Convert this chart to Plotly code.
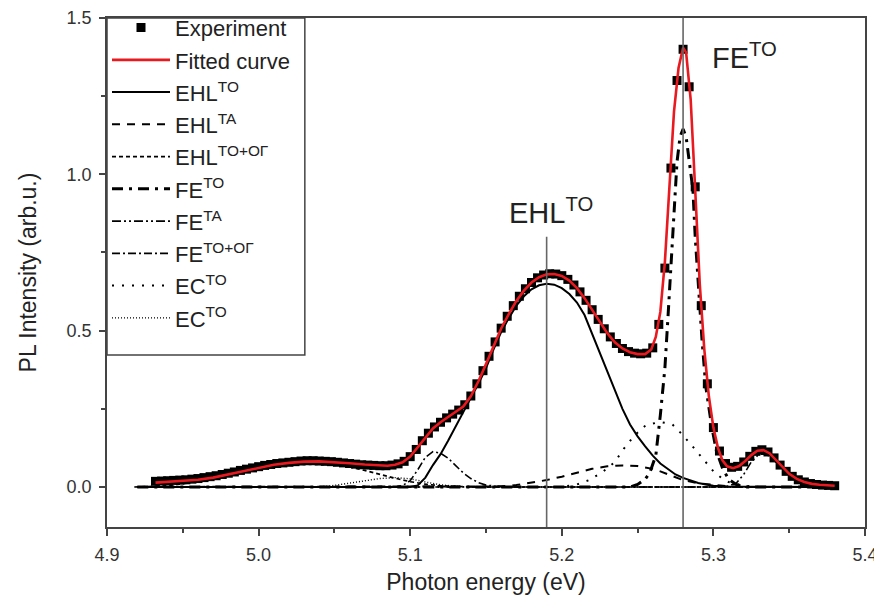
import plotly.graph_objects as go

# ---------------- data ----------------
exp_energy = [4.932, 4.936, 4.940, 4.944, 4.948, 4.952, 4.956, 4.960, 4.964, 4.968,
              4.972, 4.976, 4.980, 4.984, 4.988, 4.992, 4.996, 5.000, 5.004, 5.008,
              5.012, 5.016, 5.020, 5.024, 5.028, 5.032, 5.036, 5.040, 5.044, 5.048,
              5.052, 5.056, 5.060, 5.064, 5.068, 5.072, 5.076, 5.080, 5.084, 5.088,
              5.092, 5.096, 5.100, 5.104, 5.108, 5.112, 5.116, 5.120, 5.124, 5.128,
              5.132, 5.136, 5.140, 5.144, 5.148, 5.152, 5.156, 5.160, 5.164, 5.168,
              5.172, 5.176, 5.180, 5.184, 5.188, 5.192, 5.196, 5.200, 5.204, 5.208,
              5.212, 5.216, 5.220, 5.224, 5.228, 5.232, 5.236, 5.240, 5.244, 5.248,
              5.252, 5.256, 5.260, 5.264, 5.268, 5.272, 5.276, 5.280, 5.284, 5.288,
              5.292, 5.296, 5.300, 5.304, 5.308, 5.312, 5.316, 5.320, 5.324, 5.328,
              5.332, 5.336, 5.340, 5.344, 5.348, 5.352, 5.356, 5.360, 5.364, 5.368,
              5.372, 5.376, 5.380]
exp_intensity = [0.018, 0.019, 0.020, 0.021, 0.022, 0.023, 0.025, 0.027, 0.030, 0.033,
                 0.036, 0.040, 0.044, 0.048, 0.053, 0.057, 0.061, 0.065, 0.069, 0.072,
                 0.075, 0.077, 0.079, 0.081, 0.083, 0.084, 0.084, 0.083, 0.082, 0.081,
                 0.079, 0.077, 0.075, 0.073, 0.071, 0.070, 0.069, 0.068, 0.068, 0.070,
                 0.074, 0.082, 0.097, 0.120, 0.148, 0.172, 0.192, 0.207, 0.221, 0.233,
                 0.246, 0.263, 0.291, 0.330, 0.372, 0.418, 0.464, 0.508, 0.546, 0.580,
                 0.610, 0.634, 0.654, 0.669, 0.678, 0.682, 0.681, 0.676, 0.664, 0.646,
                 0.624, 0.597, 0.567, 0.536, 0.506, 0.480, 0.459, 0.443, 0.433, 0.428,
                 0.426, 0.428, 0.445, 0.520, 0.700, 1.020, 1.300, 1.400, 1.280, 0.960,
                 0.580, 0.330, 0.190, 0.115, 0.075, 0.063, 0.066, 0.080, 0.098, 0.114,
                 0.119, 0.112, 0.093, 0.070, 0.050, 0.034, 0.023, 0.016, 0.011, 0.008,
                 0.006, 0.005, 0.004]

fit_energy = [4.932, 4.94, 4.95, 4.96, 4.97, 4.98, 4.99, 5.00, 5.01, 5.02,
              5.03, 5.04, 5.05, 5.06, 5.07, 5.08, 5.085, 5.09, 5.095, 5.10,
              5.105, 5.11, 5.115, 5.12, 5.125, 5.13, 5.135, 5.14, 5.145, 5.15,
              5.155, 5.16, 5.165, 5.17, 5.175, 5.18, 5.185, 5.19, 5.195, 5.20,
              5.205, 5.21, 5.215, 5.22, 5.225, 5.23, 5.235, 5.24, 5.245, 5.25,
              5.255, 5.259, 5.262, 5.265, 5.268, 5.271, 5.274, 5.277, 5.28, 5.282,
              5.285, 5.288, 5.291, 5.294, 5.297, 5.30, 5.303, 5.306, 5.309, 5.313,
              5.317, 5.321, 5.325, 5.329, 5.333, 5.337, 5.341, 5.345, 5.35, 5.355,
              5.36, 5.365, 5.37, 5.38]
fit_intensity = [0.014, 0.016, 0.019, 0.023, 0.030, 0.040, 0.051, 0.062, 0.071, 0.077,
                 0.081, 0.082, 0.080, 0.076, 0.072, 0.068, 0.068, 0.071, 0.079, 0.097,
                 0.127, 0.160, 0.187, 0.207, 0.224, 0.239, 0.257, 0.290, 0.338, 0.393,
                 0.452, 0.507, 0.553, 0.595, 0.628, 0.654, 0.671, 0.680, 0.681, 0.675,
                 0.660, 0.636, 0.604, 0.566, 0.528, 0.492, 0.463, 0.443, 0.431, 0.425,
                 0.425, 0.440, 0.480, 0.560, 0.720, 0.980, 1.200, 1.340, 1.405, 1.390,
                 1.240, 0.950, 0.650, 0.440, 0.290, 0.190, 0.125, 0.085, 0.066, 0.060,
                 0.067, 0.083, 0.102, 0.116, 0.118, 0.108, 0.088, 0.065, 0.042, 0.026,
                 0.016, 0.010, 0.007, 0.004]

ehl_to_energy = [4.92, 5.10, 5.105, 5.11, 5.115, 5.12, 5.125, 5.13, 5.135, 5.14,
                 5.145, 5.15, 5.155, 5.16, 5.165, 5.17, 5.175, 5.18, 5.185, 5.19,
                 5.195, 5.20, 5.205, 5.21, 5.215, 5.22, 5.225, 5.23, 5.235, 5.24,
                 5.245, 5.25, 5.255, 5.26, 5.265, 5.27, 5.275, 5.28, 5.285, 5.29,
                 5.295, 5.30, 5.31, 5.38]
ehl_to_intensity = [0, 0, 0.005, 0.03, 0.07, 0.105, 0.148, 0.195, 0.243, 0.285,
                    0.33, 0.38, 0.44, 0.495, 0.54, 0.58, 0.61, 0.632, 0.645, 0.65,
                    0.647, 0.636, 0.617, 0.59, 0.55, 0.49, 0.43, 0.365, 0.305, 0.25,
                    0.20, 0.162, 0.13, 0.10, 0.075, 0.056, 0.04, 0.029, 0.02, 0.013,
                    0.008, 0.004, 0.001, 0]

ehl_ta_energy = [4.92, 5.15, 5.16, 5.17, 5.18, 5.19, 5.20, 5.21, 5.22, 5.23,
                 5.24, 5.25, 5.26, 5.265, 5.27, 5.275, 5.28, 5.29, 5.30, 5.31,
                 5.32, 5.38]
ehl_ta_intensity = [0, 0, 0.002, 0.006, 0.013, 0.022, 0.033, 0.046, 0.058, 0.066,
                    0.069, 0.067, 0.058, 0.050, 0.040, 0.030, 0.022, 0.012, 0.006, 0.002,
                    0, 0]

ehl_og_energy = [4.918, 4.93, 4.94, 4.95, 4.96, 4.97, 4.98, 4.99, 5.00, 5.01,
                 5.02, 5.03, 5.04, 5.05, 5.06, 5.07, 5.08, 5.09, 5.10, 5.11,
                 5.12, 5.13, 5.14, 5.38]
ehl_og_intensity = [0, 0.001, 0.004, 0.010, 0.018, 0.027, 0.038, 0.050, 0.060, 0.068,
                    0.074, 0.077, 0.076, 0.072, 0.064, 0.053, 0.040, 0.028, 0.017, 0.009,
                    0.004, 0.001, 0, 0]

fe_to_energy = [4.92, 5.245, 5.25, 5.255, 5.258, 5.262, 5.265, 5.268, 5.270, 5.272,
                5.274, 5.276, 5.278, 5.280, 5.282, 5.284, 5.2865, 5.288, 5.290, 5.2925,
                5.295, 5.299, 5.302, 5.306, 5.310, 5.315, 5.320, 5.38]
fe_to_intensity = [0, 0, 0.008, 0.025, 0.045, 0.10, 0.23, 0.38, 0.54, 0.70,
                   0.89, 1.04, 1.12, 1.145, 1.12, 1.05, 0.95, 0.80, 0.65, 0.47,
                   0.32, 0.19, 0.115, 0.06, 0.025, 0.008, 0, 0]

fe_ta_energy = [4.92, 5.30, 5.31, 5.315, 5.32, 5.325, 5.33, 5.335, 5.34, 5.345,
                5.35, 5.355, 5.36, 5.37, 5.38]
fe_ta_intensity = [0, 0, 0.003, 0.012, 0.040, 0.080, 0.105, 0.105, 0.085, 0.060,
                   0.037, 0.020, 0.010, 0.003, 0]

fe_og_energy = [4.92, 5.09, 5.095, 5.10, 5.105, 5.11, 5.115, 5.12, 5.125, 5.13,
                5.135, 5.14, 5.145, 5.15, 5.16, 5.17, 5.38]
fe_og_intensity = [0, 0, 0.005, 0.02, 0.055, 0.095, 0.113, 0.108, 0.092, 0.068,
                   0.045, 0.027, 0.014, 0.006, 0.001, 0, 0]

ec_to_energy = [4.92, 5.20, 5.21, 5.218, 5.227, 5.235, 5.241, 5.248, 5.2555, 5.265,
                5.273, 5.28, 5.288, 5.2945, 5.30, 5.305, 5.31, 5.32, 5.33, 5.38]
ec_to_intensity = [0, 0, 0.008, 0.022, 0.048, 0.080, 0.123, 0.165, 0.198, 0.208,
                   0.200, 0.165, 0.120, 0.080, 0.050, 0.030, 0.016, 0.004, 0, 0]

ec_og_energy = [4.92, 5.04, 5.05, 5.06, 5.07, 5.08, 5.09, 5.10, 5.11, 5.12,
                5.13, 5.14, 5.38]
ec_og_intensity = [0, 0, 0.005, 0.012, 0.020, 0.027, 0.030, 0.026, 0.016, 0.007,
                   0.002, 0, 0]

# reference lines + labels
line_energies = [5.19, 5.28]
line_tops = [0.80, 1.50]
peak_labels = ["EHL<sup>TO</sup>", "FE<sup>TO</sup>"]
label_x = [5.193, 5.298]
label_y = [0.80, 1.38]
label_anchor = ["center", "left"]

y_range = [-0.128, 1.5]
x_range = [4.9, 5.4]

# ---------------- figure ----------------
LEG = "<span style='font-size:22px'>%s</span>"
fig = go.Figure()

components = [
    ("EHL<sup>TO</sup>", ehl_to_energy, ehl_to_intensity, "solid", 2.0, 3),
    ("EHL<sup>TA</sup>", ehl_ta_energy, ehl_ta_intensity, "8px,7px", 2.0, 4),
    ("EHL<sup>TO+OΓ</sup>", ehl_og_energy, ehl_og_intensity, "4px,3px", 1.6, 5),
    ("FE<sup>TO</sup>", fe_to_energy, fe_to_intensity, "11px,6px,3px,6px", 3.0, 6),
    ("FE<sup>TA</sup>", fe_ta_energy, fe_ta_intensity, "9px,3px,2px,3px,2px,3px", 1.6, 7),
    ("FE<sup>TO+OΓ</sup>", fe_og_energy, fe_og_intensity, "8px,3px,2px,3px", 1.6, 8),
    ("EC<sup>TO</sup>", ec_to_energy, ec_to_intensity, "2px,8px", 2.0, 9),
    ("EC<sup>TO</sup>", ec_og_energy, ec_og_intensity, "1px,2px", 1.4, 10),
]
for name, xs, ys, dash, w, rank in components:
    fig.add_trace(go.Scatter(x=xs, y=ys, mode="lines", name=LEG % name,
                             line=dict(color="black", width=w, dash=dash),
                             legendrank=rank))

fig.add_trace(go.Scatter(x=exp_energy, y=exp_intensity, mode="markers",
                         name=LEG % "Experiment",
                         marker=dict(symbol="square", size=9, color="black"),
                         legendrank=1))
fig.add_trace(go.Scatter(x=fit_energy, y=fit_intensity, mode="lines",
                         name=LEG % "Fitted curve",
                         line=dict(color="#e8191f", width=2.6),
                         legendrank=2))

# legend frame (drawn as a box anchored to the plot's top-left corner)
fig.add_shape(type="rect", xref="paper", yref="paper", x0=0, x1=0.261, y0=0.338, y1=1,
              line=dict(color="#444444", width=1.5), fillcolor="white", layer="below")

for e, top in zip(line_energies, line_tops):
    fig.add_shape(type="line", xref="x", yref="y", x0=e, x1=e,
                  y0=y_range[0], y1=top, line=dict(color="#666666", width=1.6),
                  layer="above")
for txt, lx, ly, anc in zip(peak_labels, label_x, label_y, label_anchor):
    fig.add_annotation(x=lx, y=ly, xref="x", yref="y", text=txt, showarrow=False,
                       xanchor=anc, yanchor="bottom" if anc == "center" else "middle",
                       yshift=6 if anc == "center" else 0,
                       font=dict(size=29, color="#222222",
                                 family="Liberation Sans, Arial, sans-serif"))

axis_common = dict(showline=True, linecolor="#444444", linewidth=1.5, mirror=True,
                   ticks="outside", tickcolor="#444444", tickwidth=1.5,
                   showgrid=False, zeroline=False, tickformat=".1f",
                   ticklabeloverflow="allow", ticklabelstandoff=4,
                   tickfont=dict(size=18, color="#333333"))

# the page adds an 8 px body margin, so the figure is 8 px smaller
fig.update_layout(
    width=874, height=595,
    margin=dict(l=99, r=17, t=10, b=76, autoexpand=False),
    paper_bgcolor="white", plot_bgcolor="white",
    font=dict(family="Liberation Sans, Arial, sans-serif", color="#222222"),
    showlegend=True,
    legend=dict(x=0, y=1.0226, xanchor="left", yanchor="top", maxheight=420,
                bgcolor="rgba(0,0,0,0)", borderwidth=0,
                font=dict(size=22.5, color="#222222"), itemwidth=58,
                traceorder="normal"),
    xaxis=dict(range=x_range, dtick=0.1, tick0=4.9, ticklen=7,
               minor=dict(ticks="outside", dtick=0.05, ticklen=4, tickcolor="#444444"),
               title=dict(text="Photon energy (eV)", font=dict(size=23), standoff=10),
               automargin=False, **axis_common),
    yaxis=dict(range=y_range, dtick=0.5, tick0=0, ticklen=6,
               minor=dict(ticks="outside", dtick=0.25, ticklen=4, tickcolor="#444444"),
               title=dict(text="PL Intensity (arb.u.)", font=dict(size=23), standoff=24),
               automargin=False, **axis_common),
)

fig.write_html("out.html")
